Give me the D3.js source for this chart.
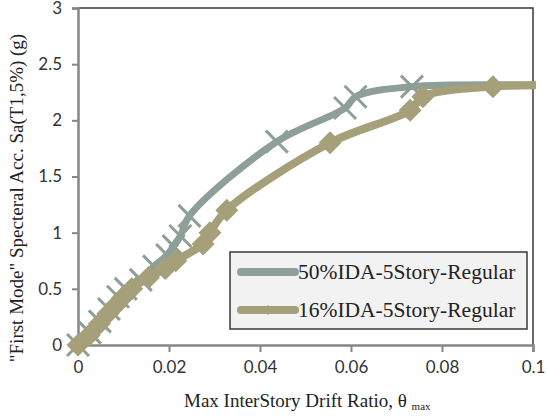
<!DOCTYPE html>
<html>
<head>
<meta charset="utf-8">
<script src="https://cdn.jsdelivr.net/npm/d3@7"></script>
<style>
  body { margin: 0; background: #fff; }
  .tick text { font-family: Lato, "Open Sans", sans-serif; font-size: 17px; fill: #333; }
</style>
</head>
<body>
<div id="chart"></div>
<script>
// ---- data ----
var drift50 = [0, 0.0026, 0.0048, 0.0068, 0.0088, 0.0105, 0.0138, 0.0167, 0.0196, 0.021, 0.0225, 0.0245, 0.0437, 0.0587, 0.061, 0.0734, 0.12];
var sa50    = [0, 0.11, 0.21, 0.32, 0.43, 0.50, 0.58, 0.70, 0.80, 0.88, 0.97, 1.15, 1.81, 2.11, 2.21, 2.30, 2.30];

var drift16 = [0, 0.0025, 0.0047, 0.0066, 0.0082, 0.0098, 0.0118, 0.0155, 0.0192, 0.0215, 0.0275, 0.029, 0.0327, 0.0554, 0.073, 0.0758, 0.0912, 0.12];
var sa16    = [0, 0.09, 0.19, 0.28, 0.35, 0.42, 0.50, 0.60, 0.68, 0.75, 0.90, 1.00, 1.20, 1.80, 2.09, 2.21, 2.30, 2.30];

var seriesNames = ["50%IDA-5Story-Regular", "16%IDA-5Story-Regular"];
var xTicks = [0, 0.02, 0.04, 0.06, 0.08, 0.1];
var yTicks = [0, 0.5, 1, 1.5, 2, 2.5, 3];

//=================== SETUP ====================
var width = 547, height = 416;
var plot = {left: 78, right: 533, top: 8, bottom: 345};

var svg = d3.select("#chart").append("svg")
	.attr("width", width)
	.attr("height", height);

var x = d3.scaleLinear().domain([0, 0.1]).range([plot.left, plot.right]);
var y = d3.scaleLinear().domain([0, 3]).range([plot.bottom, plot.top]);

var gray = "#8e9f98", tan = "#a5a07a";

svg.append("clipPath").attr("id", "plotClip")
	.append("rect")
	.attr("x", plot.left).attr("y", plot.top - 10)
	.attr("width", plot.right - plot.left + 3)
	.attr("height", plot.bottom - plot.top + 20);

// plot border (top/right dark)
svg.append("path")
	.attr("d", "M" + plot.left + "," + plot.top + "H" + plot.right + "V" + plot.bottom)
	.attr("fill", "none")
	.attr("stroke", "#3a3a32")
	.attr("stroke-width", 1.5);

// axes
var xAxis = svg.append("g")
	.attr("transform", "translate(0," + plot.bottom + ")")
	.call(d3.axisBottom(x).tickValues(xTicks).tickSize(7).tickPadding(9)
		.tickFormat(function(d){ return d === 0 ? "0" : d3.format("~g")(d); }));

var yAxis = svg.append("g")
	.attr("transform", "translate(" + plot.left + ",0)")
	.call(d3.axisLeft(y).tickValues(yTicks).tickSize(6).tickPadding(10)
		.tickFormat(d3.format("~g")));

[xAxis, yAxis].forEach(function(a){
	a.select(".domain").attr("stroke", "#868686").attr("stroke-width", 2.5);
	a.selectAll(".tick line").attr("stroke", "#868686").attr("stroke-width", 2);
});

// axis titles
var xTitle = svg.append("text")
	.attr("x", 184).attr("y", 407)
	.style("font-family", "'Liberation Serif', 'Times New Roman', serif")
	.style("font-size", "19px")
	.attr("fill", "#222");
xTitle.append("tspan").text("Max InterStory Drift Ratio, \u03b8 ");
xTitle.append("tspan").attr("dy", 3).style("font-size", "11px").text("max");

svg.append("text")
	.attr("transform", "translate(23,198) rotate(-90)")
	.attr("text-anchor", "middle")
	.style("font-family", "'Liberation Serif', 'Times New Roman', serif")
	.style("font-size", "19px")
	.attr("fill", "#222")
	.text("\"First Mode\" Specteral Acc. Sa(T1,5%) (g)");

//=================== SERIES ====================
var lineGen = d3.line()
	.x(function(d){ return x(d[0]); })
	.y(function(d){ return y(d[1]); })
	.curve(d3.curveCatmullRom.alpha(0.5));

var crossPath = function(r){
	return "M" + (-r) + "," + (-r) + "L" + r + "," + r + "M" + (-r) + "," + r + "L" + r + "," + (-r);
};
var diamondPath = function(r){
	return "M0," + (-r) + "L" + r + ",0L0," + r + "L" + (-r) + ",0Z";
};

function drawSeries(xs, ys, color, lineW, marker){
	var pts = xs.map(function(v, i){ return [v, ys[i]]; });
	var g = svg.append("g");
	g.append("path")
		.datum(pts)
		.attr("clip-path", "url(#plotClip)")
		.attr("d", lineGen)
		.attr("fill", "none")
		.attr("stroke", color)
		.attr("stroke-width", lineW);
	var m = g.selectAll("path.mk")
		.data(pts.filter(function(d){ return d[0] <= 0.1; }))
		.enter().append("path")
		.classed("mk", true)
		.attr("transform", function(d){ return "translate(" + x(d[0]) + "," + y(d[1]) + ")"; });
	if (marker == "x") {
		m.attr("d", crossPath(11)).attr("stroke", color).attr("stroke-width", 3).attr("fill", "none");
	} else {
		m.attr("d", diamondPath(11.5)).attr("fill", color);
	}
}

drawSeries(drift50, sa50, gray, 7, "x");
drawSeries(drift16, sa16, tan, 8, "d");

//=================== LEGEND ====================
var legend = svg.append("g");
legend.append("rect")
	.attr("x", 230).attr("y", 252)
	.attr("width", 297).attr("height", 77)
	.attr("fill", "#f2f2f2")
	.attr("stroke", "#3a3a32")
	.attr("stroke-width", 1.5);

[[gray, "x"], [tan, "d"]].forEach(function(s, i){
	var ly = 272 + i * 38;
	legend.append("line")
		.attr("x1", 241).attr("x2", 295)
		.attr("y1", ly).attr("y2", ly)
		.attr("stroke", s[0]).attr("stroke-width", 8)
		.attr("stroke-linecap", "round");
	legend.append("path")
		.attr("transform", "translate(268," + ly + ")")
		.attr("d", s[1] == "x" ? crossPath(3) : diamondPath(5))
		.attr("stroke", s[1] == "x" ? s[0] : "none")
		.attr("stroke-width", 2)
		.attr("fill", s[1] == "x" ? "none" : s[0]);
	legend.append("text")
		.attr("x", 298).attr("y", ly + 7)
		.style("font-family", "'Liberation Serif', 'Times New Roman', serif")
		.style("font-size", "21.5px")
		.attr("fill", "#222")
		.text(seriesNames[i]);
});
</script>
</body>
</html>
